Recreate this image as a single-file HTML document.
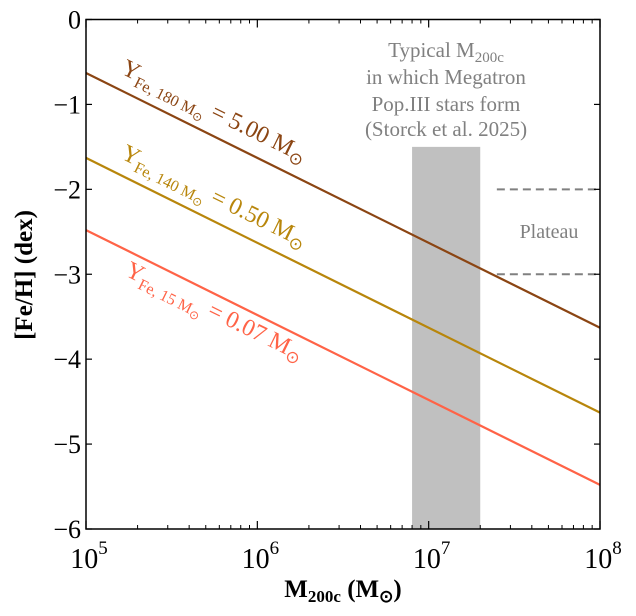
<!DOCTYPE html>
<html><head><meta charset="utf-8"><style>
body{margin:0;background:#fff}
svg text{font-family:"Liberation Serif",serif}
</style></head><body>
<svg id="chart" width="636" height="611" xmlns="http://www.w3.org/2000/svg">
<g id="plot"></g>
<text x="0" y="0" transform="translate(32,275) rotate(-90)" text-anchor="middle" font-size="25" font-weight="bold">[Fe/H] (dex)</text>
<text x="343" y="597" text-anchor="middle" font-size="25" font-weight="bold">M<tspan font-size="17" dy="5">200c</tspan><tspan dy="-5"> (M</tspan><tspan font-size="17" dy="5">⊙</tspan><tspan dy="-5">)</tspan></text>
<g fill="#808080" font-size="21" text-anchor="middle">
<text x="446" y="57">Typical M<tspan font-size="15" dy="5">200c</tspan></text>
<text x="446" y="84">in which Megatron</text>
<text x="446" y="111">Pop.III stars form</text>
<text x="446" y="136">(Storck et al. 2025)</text>
</g>
<text x="549" y="238" fill="#808080" font-size="20" text-anchor="middle">Plateau</text>
<g transform="translate(120,73) rotate(26.2)" fill="#8b4513"><text font-size="24">Y<tspan font-size="16" dy="6">Fe, 180 M</tspan><tspan font-size="12" dy="3">⊙</tspan><tspan dy="-9" font-size="24"> = 5.00 M</tspan><tspan font-size="17" dy="5">⊙</tspan></text></g>
<g transform="translate(120,158) rotate(26.2)" fill="#b8860b"><text font-size="24">Y<tspan font-size="16" dy="6">Fe, 140 M</tspan><tspan font-size="12" dy="3">⊙</tspan><tspan dy="-9" font-size="24"> = 0.50 M</tspan><tspan font-size="17" dy="5">⊙</tspan></text></g>
<g transform="translate(124,275) rotate(26.2)" fill="#ff6347"><text font-size="24">Y<tspan font-size="16" dy="6">Fe, 15 M</tspan><tspan font-size="12" dy="3">⊙</tspan><tspan dy="-9" font-size="24"> = 0.07 M</tspan><tspan font-size="17" dy="5">⊙</tspan></text></g>
</svg>
<script>
const xDomain=[5,8];           // log10 M200c
const yDomain=[-6,0];
const lineNames=['yfe-180','yfe-140','yfe-15'];
const lineColors=['#8b4513','#b8860b','#ff6347'];
const lineStart=[-0.63,-1.63,-2.48]; // [Fe/H] at 1e5
const lineEnd=[-3.63,-4.63,-5.48];   // [Fe/H] at 1e8
const bandX=[8e6,2e7];
const bandTop=-1.5;
const plateau=[-2,-3];
const plateauStart=2.5e7;
const yTicks=[0,-1,-2,-3,-4,-5,-6];
const yTickLabels=['0','\u22121','\u22122','\u22123','\u22124','\u22125','\u22126'];
const xTicks=[5,6,7,8];

const L=86,R=600,T=19.5,B=529;
const X=v=>L+(v-xDomain[0])/(xDomain[1]-xDomain[0])*(R-L);
const Y=v=>B-(v-yDomain[0])/(yDomain[1]-yDomain[0])*(B-T);
const NS='http://www.w3.org/2000/svg';
const svg=document.getElementById('plot');
function mk(t,a,p){const e=document.createElementNS(NS,t);for(const k in a)e.setAttribute(k,a[k]);(p||svg).appendChild(e);return e;}

const band=mk('rect',{x:X(Math.log10(bandX[0])),y:Y(bandTop),width:X(Math.log10(bandX[1]))-X(Math.log10(bandX[0])),height:Y(-6)-Y(bandTop),fill:'#c0c0c0'});



plateau.forEach((v,i)=>{
 const l=mk('line',{x1:X(Math.log10(plateauStart)),x2:R,y1:Y(v),y2:Y(v),stroke:'#808080','stroke-width':2,'stroke-dasharray':'8,5'});
 
 
});

lineNames.forEach((n,i)=>{
 const l=mk('line',{x1:X(5),y1:Y(lineStart[i]),x2:X(8),y2:Y(lineEnd[i]),stroke:lineColors[i],'stroke-width':2.2});
 
 
});

const fr=mk('rect',{x:L,y:T,width:R-L,height:B-T,fill:'none',stroke:'#000','stroke-width':1.5});



yTicks.forEach((v,i)=>{
 mk('line',{x1:L,x2:L+6,y1:Y(v),y2:Y(v),stroke:'#000','stroke-width':1.2});
 mk('line',{x1:R,x2:R-6,y1:Y(v),y2:Y(v),stroke:'#000','stroke-width':1.2});
 const t=mk('text',{x:L-5,y:Y(v)+9,'text-anchor':'end','font-size':26});
 t.textContent=yTickLabels[i];
 
 
});
for(let d=5;d<8;d++){for(let m=2;m<=9;m++){const x=X(d+Math.log10(m));
 mk('line',{x1:x,x2:x,y1:B,y2:B-4,stroke:'#000','stroke-width':1});
 mk('line',{x1:x,x2:x,y1:T,y2:T+4,stroke:'#000','stroke-width':1});}}
xTicks.forEach(v=>{
 mk('line',{x1:X(v),x2:X(v),y1:B,y2:B-8,stroke:'#000','stroke-width':1.2});
 mk('line',{x1:X(v),x2:X(v),y1:T,y2:T+8,stroke:'#000','stroke-width':1.2});
 const t=mk('text',{x:X(v)+3,y:B+39,'text-anchor':'middle','font-size':28});
 t.innerHTML='10<tspan dy="-14" font-size="19">'+v+'</tspan>';
 
 
});
</script>
</body></html>
